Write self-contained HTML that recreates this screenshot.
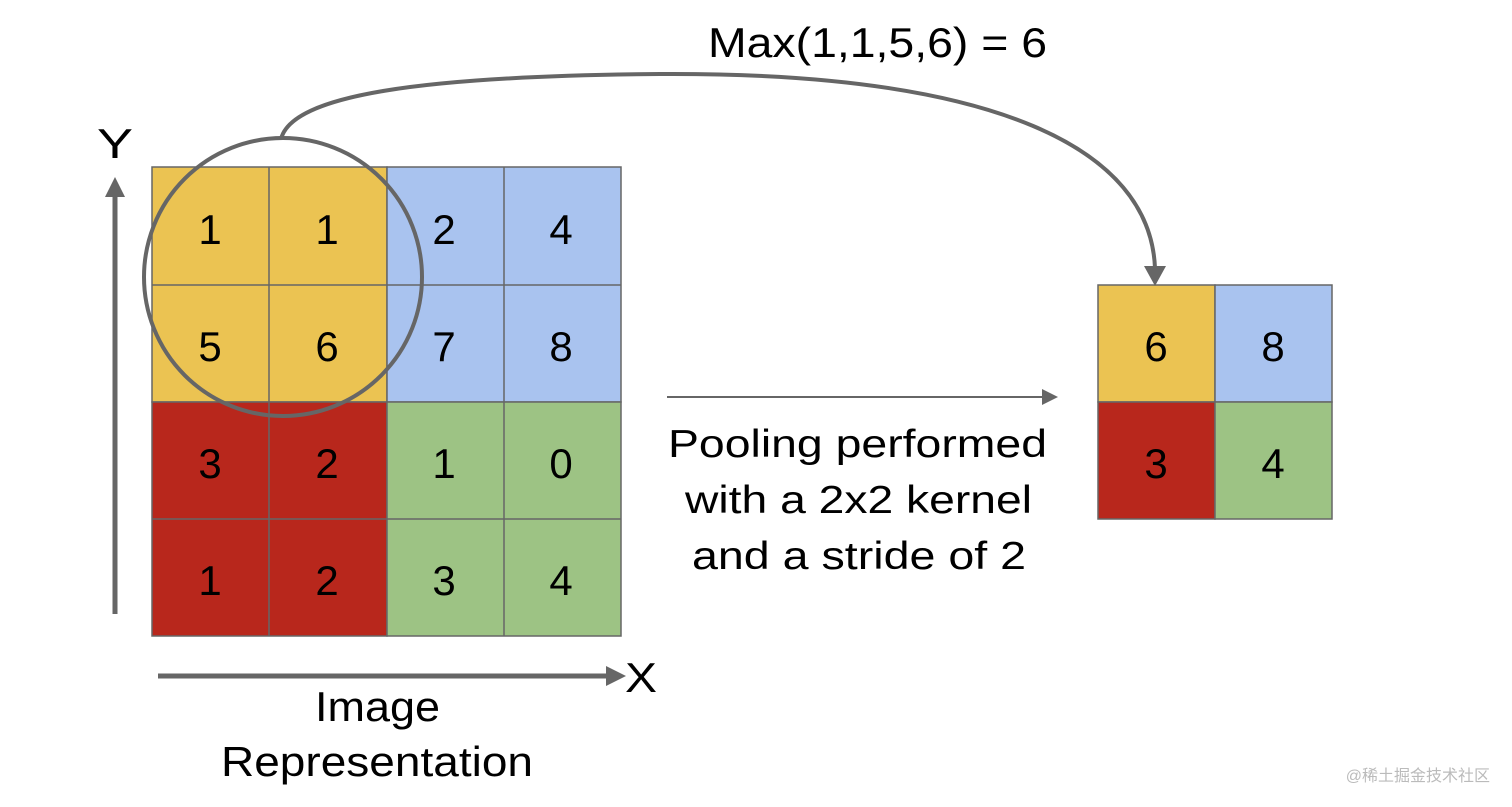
<!DOCTYPE html>
<html><head><meta charset="utf-8"><style>
html,body{margin:0;padding:0;background:#fff;}
body{width:1512px;height:807px;overflow:hidden;position:relative;font-family:"Liberation Sans",Arial,sans-serif;}
svg{position:absolute;left:0;top:0;}
</style></head><body>
<svg width="1512" height="807" viewBox="0 0 1512 807" font-family="Liberation Sans, Arial, sans-serif">
<g stroke="#666" stroke-width="1.5">
<rect x="152" y="167" width="235" height="235" fill="#ebc352"/>
<rect x="387" y="167" width="234" height="235" fill="#a9c3ef"/>
<rect x="152" y="402" width="235" height="234" fill="#b8271c"/>
<rect x="387" y="402" width="234" height="234" fill="#9dc384"/>
<line x1="269" y1="167" x2="269" y2="636"/><line x1="504" y1="167" x2="504" y2="636"/>
<line x1="152" y1="285" x2="621" y2="285"/><line x1="152" y1="519" x2="621" y2="519"/>
<rect x="1098" y="285" width="117" height="117" fill="#ebc352"/>
<rect x="1215" y="285" width="117" height="117" fill="#a9c3ef"/>
<rect x="1098" y="402" width="117" height="117" fill="#b8271c"/>
<rect x="1215" y="402" width="117" height="117" fill="#9dc384"/>
</g>
<g font-size="42" text-anchor="middle" fill="#000">
<text x="210" y="244">1</text><text x="327" y="244">1</text><text x="444" y="244">2</text><text x="561" y="244">4</text>
<text x="210" y="361">5</text><text x="327" y="361">6</text><text x="444" y="361">7</text><text x="561" y="361">8</text>
<text x="210" y="478">3</text><text x="327" y="478">2</text><text x="444" y="478">1</text><text x="561" y="478">0</text>
<text x="210" y="595">1</text><text x="327" y="595">2</text><text x="444" y="595">3</text><text x="561" y="595">4</text>
<text x="1156" y="361">6</text><text x="1273" y="361">8</text>
<text x="1156" y="478">3</text><text x="1273" y="478">4</text>
</g>
<circle cx="283" cy="277" r="139" fill="none" stroke="#666" stroke-width="4"/>
<path d="M281,139 C292,95 420,76 660,74 C1000,72 1150,150 1155,268" fill="none" stroke="#666" stroke-width="4"/>
<polygon points="1144,266 1166,266 1155,286" fill="#666"/>
<line x1="115" y1="614" x2="115" y2="195" stroke="#666" stroke-width="5"/>
<polygon points="105,197 125,197 115,177" fill="#666"/>
<line x1="158" y1="676" x2="608" y2="676" stroke="#666" stroke-width="5"/>
<polygon points="606,666 606,686 626,676" fill="#666"/>
<line x1="667" y1="397" x2="1045" y2="397" stroke="#666" stroke-width="2"/>
<polygon points="1042,389 1042,405 1058,397" fill="#666"/>
<g fill="#000" font-size="42">
<text x="97" y="158" textLength="36" lengthAdjust="spacingAndGlyphs">Y</text>
<text x="625" y="692" textLength="32" lengthAdjust="spacingAndGlyphs">X</text>
<text x="708" y="57" textLength="339" lengthAdjust="spacingAndGlyphs">Max(1,1,5,6) = 6</text>
<text x="315" y="721" textLength="125" lengthAdjust="spacingAndGlyphs">Image</text>
<text x="221" y="776" textLength="312" lengthAdjust="spacingAndGlyphs">Representation</text>
</g>
<g fill="#000" font-size="39">
<text x="668" y="457" textLength="379" lengthAdjust="spacingAndGlyphs">Pooling performed</text>
<text x="685" y="513" textLength="347" lengthAdjust="spacingAndGlyphs">with a 2x2 kernel</text>
<text x="692" y="569" textLength="334" lengthAdjust="spacingAndGlyphs">and a stride of 2</text>
</g>
<text x="1490" y="781" text-anchor="end" font-size="16" fill="#bbb" font-family="Liberation Sans, Noto Sans CJK SC, sans-serif">@稀土掘金技术社区</text>
</svg>
</body></html>
